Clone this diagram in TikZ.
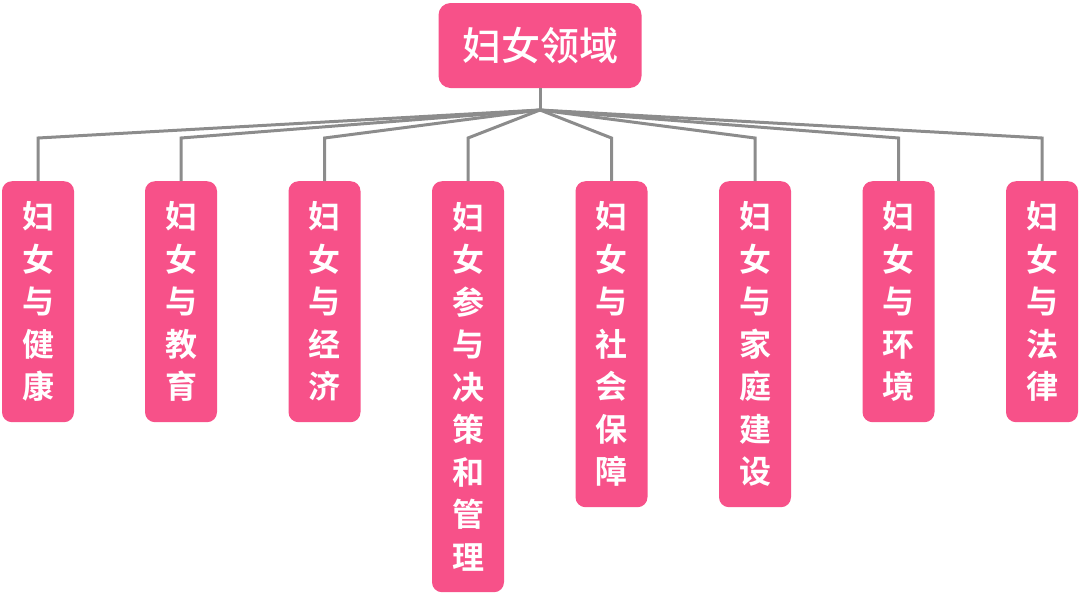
\documentclass[tikz,border=0pt]{standalone}
\usepackage{fontspec}
\newfontfamily\cjkmed{Noto Sans CJK SC Medium}
\newfontfamily\cjkbold{Noto Sans CJK SC Bold}
\definecolor{pinkbox}{HTML}{F75189}
\definecolor{lineg}{HTML}{8C8C8C}
\begin{document}
\begin{tikzpicture}[x=1pt,y=-1pt,
  rootbox/.style={fill=pinkbox,rounded corners=12pt,minimum width=203pt,minimum height=85pt,inner sep=0pt,text=white,font=\cjkmed\fontsize{39}{44}\selectfont},
  leafbox/.style={fill=pinkbox,rounded corners=10pt,minimum width=72pt,inner sep=0pt,text=white,anchor=north,align=center,font=\cjkbold\fontsize{32}{42.5}\selectfont},
  conn/.style={draw=lineg,line width=3pt}]
\useasboundingbox (0,0) rectangle (1080,595);
\node[rootbox] (root) at (540,45.5) {妇女领域};
\coordinate (j) at (540,110);
\node[leafbox,minimum height=241pt] (c1) at (38,181) {妇\\女\\与\\健\\康};
\node[leafbox,minimum height=241pt] (c2) at (181,181) {妇\\女\\与\\教\\育};
\node[leafbox,minimum height=241pt] (c3) at (324.5,181) {妇\\女\\与\\经\\济};
\node[leafbox,minimum height=411pt] (c4) at (468,181) {妇\\女\\参\\与\\决\\策\\和\\管\\理};
\node[leafbox,minimum height=326pt] (c5) at (611.5,181) {妇\\女\\与\\社\\会\\保\\障};
\node[leafbox,minimum height=326pt] (c6) at (755,181) {妇\\女\\与\\家\\庭\\建\\设};
\node[leafbox,minimum height=241pt] (c7) at (898.5,181) {妇\\女\\与\\环\\境};
\node[leafbox,minimum height=241pt] (c8) at (1042,181) {妇\\女\\与\\法\\律};
\draw[conn] (root.south) -- (j);
\foreach \c in {c1,c2,c3,c4,c5,c6,c7,c8}{
  \draw[conn,line join=miter] (j) -- (\c.north |- 0,138) -- (\c.north);
}
\end{tikzpicture}
\end{document}
